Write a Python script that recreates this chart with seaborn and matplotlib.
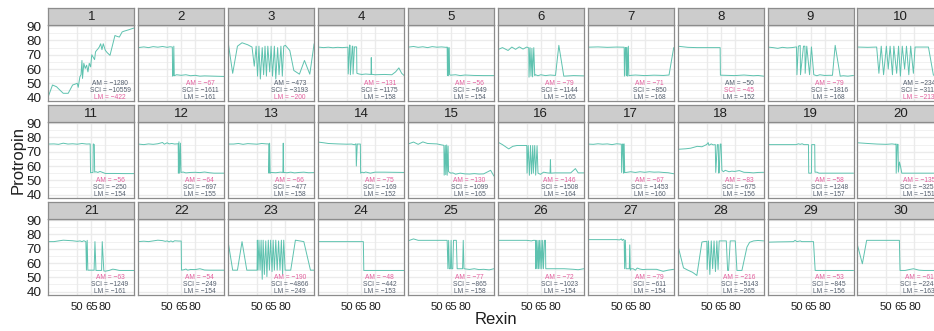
import matplotlib
matplotlib.use("Agg")
import matplotlib.pyplot as plt
import pandas as pd
import seaborn as sns

sns.set_theme(style="white")
plt.rcParams["font.family"] = ["Liberation Sans", "DejaVu Sans"]

# ---- data -------------------------------------------------------------
panel_ids = list(range(1, 31))

am_scores = [-1280, -67, -473, -131, -56, -79, -71, -50, -79, -234,
             -56, -64, -66, -75, -130, -146, -67, -83, -58, -135,
             -63, -54, -190, -48, -77, -72, -79, -216, -53, -61]
sci_scores = [-10559, -1611, -3193, -1175, -649, -1144, -850, -45, -1816, -3117,
              -250, -697, -477, -169, -1099, -1508, -1453, -675, -1248, -3255,
              -1249, -249, -4866, -442, -865, -1023, -611, -5143, -845, -2245]
lm_scores = [-422, -161, -200, -158, -154, -165, -168, -152, -168, -213,
             -154, -155, -158, -152, -165, -164, -160, -156, -157, -151,
             -161, -154, -249, -153, -158, -154, -154, -265, -156, -163]

rexin_01 = [19, 23.5, 27.8, 31, 35, 40.3, 45, 48, 50, 51, 52.8, 54, 55, 55.6, 57, 58.5, 60, 61.4, 62.8, 64.3,
            65.5, 66.4, 68.5, 69.5, 70.7, 72, 73.5, 75, 76.4, 77.8, 80, 82, 85, 90.3, 92, 95, 98, 100, 105, 111]
protropin_01 = [40.7, 48.8, 47.6, 45.5, 43, 43, 48.8, 49.5, 50, 47.2, 54.6, 56, 66, 53.4, 64, 60.4, 62.7, 58, 64, 61.5,
                70, 69, 66.6, 72, 73.1, 74, 75.4, 77.7, 73.6, 77.7, 73.1, 71.5, 69.6, 83.5, 83, 82.4, 86, 86.5, 87.5, 88.8]

rexin_02 = [19, 25, 30, 35, 40, 45, 50, 53, 55.5, 55.8, 56.5, 57.1, 57.6, 60, 65, 70, 75, 80, 85, 90, 100, 111]
protropin_02 = [75, 75.5, 75, 75.7, 75.3, 75.8, 75.2, 75.6, 75.4, 55, 55.5, 76, 55.3, 56, 55.6, 56, 55.3, 55.6, 55, 55.2, 55, 54.8]

rexin_03 = [19, 23.9, 29, 33.9, 40, 44.6, 47, 49, 50.5, 52, 53.5, 55.5, 57, 58.5, 60, 61.5, 63.5, 65, 66.5, 68.5,
            70, 72, 73.5, 75.5, 77, 78.5, 80.3, 85, 89.3, 95.3, 100.7, 106.4, 111]
protropin_03 = [79, 57, 76, 78.4, 77, 75.4, 62, 76, 55, 76, 53, 75, 56, 76, 55, 76, 58, 76, 55, 76,
                53, 75, 56, 76, 55, 76, 76.6, 73, 59, 56.4, 66, 56.4, 77.7]

rexin_04 = [19, 25, 30, 35, 40, 45, 51, 51.3, 52.8, 53.3, 53.6, 55.7, 56.2, 56.5, 58, 60.3, 60.6, 63, 66, 70,
            75.7, 76, 76.4, 80, 90, 98, 102, 105.5, 108.5, 111]
protropin_04 = [75.4, 75, 75.3, 74.9, 75.2, 75, 75.3, 56.5, 76.8, 76.6, 56, 76, 76, 56.5, 75.5, 75.5, 57, 56.5, 56.2, 56.5,
                56.2, 68, 56.3, 56, 56.2, 56, 58, 60.8, 57, 55.5]

rexin_05 = [19, 25, 30, 35, 40, 45, 50, 55, 60, 61, 61.3, 62, 62.5, 63.2, 63.7, 64.6, 70, 75, 80, 90, 100, 111]
protropin_05 = [75.3, 75.8, 75.2, 75.6, 75, 75.7, 75.3, 75.5, 75.2, 75.4, 55.5, 75, 55.3, 75, 56, 55.7, 56, 55.4, 55.8, 55.5, 55.4, 55.4]

rexin_06 = [19, 24, 30, 34, 38, 42, 46, 50, 52.1, 52.4, 53.5, 54.5, 55.5, 56.2, 57.5, 58.5, 59.3, 62, 65, 70,
            75, 80.7, 84.3, 89.6, 95, 100, 111]
protropin_06 = [73.6, 75, 73, 75.4, 73.8, 75.5, 74, 75.4, 74.8, 54.3, 75, 55, 74.5, 54.5, 75, 55.5, 56, 55.3, 56, 55.4,
                55.8, 55.5, 76.6, 55, 55.2, 55.4, 55.2]

rexin_07 = [19, 30, 40, 50, 57, 58, 58.3, 59.3, 60, 60.3, 61, 61.5, 62.5, 63, 64, 70, 80, 90, 100, 106, 111]
protropin_07 = [75.3, 75.5, 75.2, 75.4, 75.3, 75.3, 55, 75, 75, 55.5, 75.2, 55, 76, 55.3, 55.5, 55.8, 55.4, 55.7, 55.5, 55.8, 75]

rexin_08 = [19, 30, 40, 50, 60, 64.5, 64.8, 70, 80, 90, 100, 105, 111]
protropin_08 = [76, 75.2, 75, 75, 75, 75, 55.7, 55.6, 55.4, 55.8, 55.3, 55.5, 55]

rexin_09 = [19, 25, 30, 35, 40, 45, 50, 50.5, 52, 54, 54.3, 57.5, 59, 59.3, 61, 64, 66, 68.5, 71.8, 75,
            80, 85, 88.5, 91.4, 96.8, 100, 105, 111]
protropin_09 = [75.4, 75, 74.5, 75.2, 74.8, 75, 75.5, 56, 76, 76.5, 56, 76, 76, 57, 76, 56, 75.5, 56, 55.3, 56,
                55.5, 55.6, 55.6, 76.6, 55, 55.3, 55, 55.5]

rexin_10 = [19, 30, 39.6, 42, 44.5, 47, 50, 52, 54, 56.5, 58, 61, 63, 65, 67, 69.5, 71.5, 74, 76, 78.9,
            80.7, 90, 95, 100.3, 105, 111]
protropin_10 = [75.4, 75.2, 75.4, 57, 76, 56, 76, 60, 76, 56, 76, 57, 76, 55, 76, 60, 76, 56, 76, 57,
                75.4, 75.4, 75.4, 55.7, 55.5, 55.5]

rexin_11 = [19, 25, 30, 35, 40, 45, 50, 55, 60, 63.8, 64.2, 66.8, 67.1, 68.2, 68.6, 70, 72, 74.3, 80, 90, 100, 111]
protropin_11 = [75.4, 75.5, 75.2, 76, 75.4, 75.6, 75.3, 75.8, 75.4, 75.5, 55.3, 55.5, 75.5, 75, 55.7, 56, 55.5, 56.2,
                54.8, 54.8, 54.7, 54.7]

rexin_12 = [19, 25, 30, 35, 40, 45, 47, 50, 52, 55, 58, 61.8, 62, 62.6, 63.3, 64.2, 64.8, 67, 70, 75,
            80, 85, 90, 95, 100, 111]
protropin_12 = [75.4, 75, 75.5, 75.2, 75.6, 76.5, 75.3, 76.3, 75.5, 75.8, 75.4, 75.6, 55, 77, 55, 76, 55.5, 55.8, 55.2, 55.5,
                55.6, 55.4, 55.8, 55.3, 55, 55]

rexin_13 = [19, 25, 30, 35, 40, 45, 50, 55, 60, 62.5, 62.7, 63.4, 64, 65, 70, 75, 77.6, 78, 78.4, 82,
            86, 90, 95, 100, 105, 111]
protropin_13 = [75.4, 75.4, 75.8, 75.2, 75.7, 75.5, 75.3, 75.8, 75.5, 75.5, 55, 76, 55, 55.5, 55.3, 55.7, 55.5, 76, 55.5, 55.3,
                55.7, 55.2, 55.5, 55.7, 55.3, 55.4]

rexin_14 = [19, 25, 30, 40, 50, 55, 58, 59.6, 60, 61, 64.3, 64.6, 66, 68, 70, 75, 80, 90, 100, 111]
protropin_14 = [76.8, 76.3, 75.8, 75.5, 75.3, 75.4, 74.9, 75.6, 60, 75.4, 75.4, 55, 55.7, 55.3, 55.8, 55, 55.7, 55.7, 55.6, 55.5]

rexin_15 = [19, 25, 30, 35, 40, 50, 55, 57.5, 57.8, 59, 59.5, 60.5, 61, 62, 62.5, 63.5, 65, 67, 70, 75,
            80, 85, 90, 95, 100, 107.5, 111]
protropin_15 = [75.4, 76.8, 75.2, 76.9, 75.8, 75.5, 74.8, 74.5, 53.6, 74.5, 54, 74.8, 53.5, 74, 56, 55.6, 55, 55.2, 54.3, 55,
                54.5, 54.4, 54.7, 54.4, 54.5, 57, 53]

rexin_16 = [19, 24, 30.7, 35, 39.6, 45, 50, 50.3, 51.5, 52.8, 54, 55, 56.4, 57, 58.5, 59.5, 61, 62, 64.6, 68,
            72, 74.9, 75.3, 75.7, 80, 90, 97, 102, 105, 111]
protropin_16 = [76.8, 75, 72, 73.8, 74.4, 74.4, 74.4, 55, 74.4, 53.5, 74.4, 54.5, 74.4, 55, 74.4, 53.6, 74.3, 55, 54.2, 55.7,
                55.2, 55, 64.4, 55, 55.2, 55.2, 55.2, 58.2, 55.2, 55.2]

rexin_17 = [19, 25, 30, 35, 40, 45, 50, 55, 55.3, 56.5, 57, 57.5, 58, 58.6, 60, 65, 70, 75, 80, 85,
            90, 95, 100, 105, 111]
protropin_17 = [75.4, 75.2, 75.6, 75.3, 75.5, 75, 75.6, 75.3, 55.5, 75.5, 75.3, 55, 75.5, 55.5, 55.5, 56, 55.5, 56, 55.6, 56,
                55.7, 55.8, 55.5, 55.3, 54.6]

rexin_18 = [19, 28, 33, 40, 45, 50, 51.7, 52.5, 55, 57, 59.3, 59.8, 61.5, 62.5, 63, 63.5, 64.6, 65.5, 66.4, 68,
            70, 74, 77, 80, 85, 90, 95, 100, 105, 111]
protropin_18 = [71.7, 72.1, 72.5, 73.8, 73.5, 75, 76.4, 74.5, 75.5, 74.8, 75, 55.5, 75, 75, 55, 55.5, 75.4, 75.4, 57, 56,
                57, 56, 56.4, 56.2, 56.8, 55.6, 55.5, 55.2, 55.5, 55.6]

rexin_19 = [19, 30, 40, 50, 52, 54, 56, 58, 61.8, 62.8, 63.1, 66, 66.3, 69.5, 69.8, 72, 74, 80, 90, 100, 111]
protropin_19 = [75, 75, 75, 75, 75.6, 75.2, 75.6, 75, 75, 75, 55, 55, 75, 75, 55.7, 55.7, 55, 55, 55, 55, 55]

rexin_20 = [19, 30, 40, 50, 56, 59.5, 60.3, 60.5, 61.6, 62.5, 62.8, 64, 65.3, 66.5, 70, 80, 90, 100, 111]
protropin_20 = [76.3, 75.8, 75.4, 75.2, 75.5, 75.2, 75.5, 55, 75.2, 75.2, 55.7, 62.8, 59.2, 55, 55, 55, 55, 55, 55]

rexin_21 = [19, 25, 30, 35, 40, 45, 50, 53, 55, 57, 59.2, 59.8, 60.6, 61.3, 68, 68.9, 70, 76, 76.7, 78.4,
            80, 84, 88, 91, 95, 100, 111]
protropin_21 = [75, 75, 75.5, 76, 75.8, 75.6, 75.2, 75.5, 75, 75.6, 75, 55, 75.9, 55, 55, 75, 54.8, 54.8, 75, 54.5,
                54.3, 54.8, 55.7, 55.4, 54.8, 54.8, 54.8]

rexin_22 = [19, 25, 30, 35, 40, 45, 48, 50, 52, 54, 56, 58, 62, 65, 65.3, 68, 70, 72, 75, 80,
            85, 90, 95, 100, 111]
protropin_22 = [75, 75.3, 75, 75.5, 76, 75.7, 75.2, 75.5, 74.8, 75.5, 74.8, 75.6, 75.4, 75.4, 55, 55.3, 55.8, 55, 55.5, 55.4,
                56, 55.1, 55, 55, 55]

rexin_23 = [19, 23.9, 29, 33.9, 39, 45, 50, 50.3, 51, 52, 53.2, 54.3, 55.5, 56.5, 57.8, 59.3, 60.5, 62, 63.2, 64.5,
            66, 67.2, 68.5, 70, 71.5, 73, 74.5, 76, 77.3, 78.5, 80, 82, 86, 91, 100, 107.1, 111]
protropin_23 = [75, 55, 55, 75, 55, 55, 55, 76, 55, 76, 55, 76, 48.6, 76, 52, 75.5, 50.5, 76, 55, 76,
                54, 76, 55, 76, 55, 75.5, 55, 76, 52, 76, 55, 55, 55, 76, 75, 55, 55]

rexin_24 = [19, 30, 40, 50, 60, 67.5, 68, 80, 90, 100, 111]
protropin_24 = [75, 75, 75, 75, 75, 75, 54.8, 54.8, 54.8, 54.8, 54.8]

rexin_25 = [19, 25, 30, 40, 50, 55, 61, 61.8, 62.6, 63.3, 64.5, 65.2, 65.8, 67, 67.8, 70.8, 71.7, 73.5, 77.5, 78.2,
            79, 85, 90, 95, 100, 106, 111]
protropin_25 = [75.5, 76.9, 75.9, 75.9, 75.9, 75.9, 75.9, 56, 75.9, 56, 56, 75.9, 56, 56, 75.9, 75.9, 56, 56, 56, 75.9,
                56, 55.5, 56, 55.4, 55.6, 55.2, 56]

rexin_26 = [19, 30, 40, 50, 55, 57, 59.3, 59.6, 60.3, 61, 62, 62.6, 63.5, 64.2, 65.3, 66, 67, 67.8, 69, 70,
            70.3, 75, 80, 90, 100, 105, 111]
protropin_26 = [75.9, 75.9, 75.9, 75.9, 75.5, 75.9, 75.9, 56, 75.9, 56, 75.9, 56, 75.9, 56, 75.9, 56, 75.9, 56, 75.9, 75.9,
                56, 56, 56, 56, 55.6, 55.3, 56]

rexin_27 = [19, 30, 40, 50, 53, 55, 56, 57, 58, 58.5, 59.3, 60, 61.2, 63.5, 64, 64.6, 65.5, 67.6, 70, 72,
            74.7, 78, 82, 86, 92.6, 99.7, 105, 111]
protropin_27 = [76.4, 76.4, 76.4, 76.4, 76.2, 76.9, 75.8, 76.6, 76.2, 56, 76, 56, 56, 56, 72.7, 55, 56, 56, 55, 56.5,
                55.8, 55.4, 55.6, 55.6, 55.6, 54.2, 55, 55.6]

rexin_28 = [19, 25.3, 30, 35, 39.6, 45, 47, 50.3, 50.6, 52, 53.5, 55, 56.5, 58, 59.5, 61, 62.3, 63.5, 71.1, 72.5,
            73.5, 75.3, 80.7, 82.5, 87.8, 93.2, 96, 100.3, 105, 111]
protropin_28 = [73.1, 56.6, 55, 53.5, 51.3, 74.7, 75, 75.2, 55.5, 75.5, 52, 75.5, 56, 75.5, 54, 75.5, 55.5, 75.5, 75.5, 54.8,
                54.8, 75.5, 75.5, 54.8, 54.8, 71.2, 74.5, 75.5, 75.8, 75.5]

rexin_29 = [19, 30, 40, 46.8, 48.5, 50.3, 52.1, 54, 55.6, 60, 68.2, 70, 80, 90, 100, 111]
protropin_29 = [74.6, 74.8, 74.9, 75, 75.9, 75, 75.2, 75.5, 75, 75, 75, 54.8, 54.8, 54.8, 54.8, 54.8]

rexin_30 = [19, 24.3, 28.9, 40, 50, 60, 63.9, 64.6, 70, 75, 78.9, 85, 90, 100, 111]
protropin_30 = [72.7, 59.5, 75.9, 75.9, 75.9, 75.9, 75.9, 54.8, 54.8, 55.5, 56, 55, 54.8, 54.8, 54.8]

x_breaks = [50, 65, 80]
y_breaks = [40, 50, 60, 70, 80, 90]

traces = [
    (rexin_01, protropin_01), (rexin_02, protropin_02), (rexin_03, protropin_03), (rexin_04, protropin_04),
    (rexin_05, protropin_05), (rexin_06, protropin_06), (rexin_07, protropin_07), (rexin_08, protropin_08),
    (rexin_09, protropin_09), (rexin_10, protropin_10), (rexin_11, protropin_11), (rexin_12, protropin_12),
    (rexin_13, protropin_13), (rexin_14, protropin_14), (rexin_15, protropin_15), (rexin_16, protropin_16),
    (rexin_17, protropin_17), (rexin_18, protropin_18), (rexin_19, protropin_19), (rexin_20, protropin_20),
    (rexin_21, protropin_21), (rexin_22, protropin_22), (rexin_23, protropin_23), (rexin_24, protropin_24),
    (rexin_25, protropin_25), (rexin_26, protropin_26), (rexin_27, protropin_27), (rexin_28, protropin_28),
    (rexin_29, protropin_29), (rexin_30, protropin_30),
]

frames = [pd.DataFrame({"panel": pid, "Rexin": xs, "Protropin": ys})
          for pid, (xs, ys) in zip(panel_ids, traces)]
df = pd.concat(frames, ignore_index=True)

# ---- styling ----------------------------------------------------------
LINE_COLOR = "#5EC2AF"
TEXT_GREY = "#56606F"
TEXT_PINK = "#E3609E"
GRID = "#EBEBEB"
BORDER = "#8C8C8C"
STRIP_FILL = "#CCCCCC"
INK = "#1f1f1f"

W, H = 934, 331
fig = plt.figure(figsize=(W / 100, H / 100), dpi=100)
fig.patch.set_facecolor("white")


def fig_box(left_px, top_px, width_px, height_px):
    return [left_px / W, 1 - (top_px + height_px) / H, width_px / W, height_px / H]


N_COLS = 10
PANEL_W, PANEL_H, STRIP_H = 86.0, 76.5, 17.0
COL_PITCH, ROW_PITCH = 89.9, 97.0
X0, Y0 = 48.3, 7.5

for i, pid in enumerate(panel_ids):
    r, c = divmod(i, N_COLS)
    left = X0 + COL_PITCH * c
    strip_top = Y0 + ROW_PITCH * r
    panel_top = strip_top + STRIP_H

    ax = fig.add_axes(fig_box(left, panel_top, PANEL_W, PANEL_H))
    sub = df[df["panel"] == pid]
    sns.lineplot(data=sub, x="Rexin", y="Protropin", ax=ax, estimator=None, sort=False,
                 color=LINE_COLOR, linewidth=0.7)
    ax.set_xlim(19, 111)
    ax.set_ylim(37.6, 91.2)
    ax.set_xlabel("")
    ax.set_ylabel("")
    ax.set_facecolor("white")

    ax.set_xticks(x_breaks)
    ax.set_yticks(y_breaks)
    ax.set_yticks([45, 55, 65, 75, 85], minor=True)
    ax.grid(which="major", color=GRID, linewidth=1.0)
    ax.grid(which="minor", axis="y", color=GRID, linewidth=0.5)
    ax.set_axisbelow(True)
    ax.tick_params(which="minor", length=0)
    ax.tick_params(which="major", length=2.2, width=0.7, color="#333333", labelcolor=INK)
    ax.tick_params(axis="x", labelsize=8.2, pad=3.2)
    ax.tick_params(axis="y", labelsize=9.7, pad=2.6)
    if c != 0:
        ax.tick_params(axis="y", left=False, labelleft=False)
    if r != 2:
        ax.tick_params(axis="x", bottom=False, labelbottom=False)
    for s in ax.spines.values():
        s.set_color(BORDER)
        s.set_linewidth(0.9)

    # model scores, best one highlighted
    scores = [("AM", am_scores[i]), ("SCI", sci_scores[i]), ("LM", lm_scores[i])]
    best = max(v for _, v in scores)
    for k, (name, val) in enumerate(scores):
        ax.text(85, 50 - 5 * k, f"{name} = {val}".replace("-", "\u2212"),
                ha="center", va="center", fontsize=4.8,
                color=TEXT_PINK if val == best else TEXT_GREY)

    # facet strip
    sax = fig.add_axes(fig_box(left, strip_top, PANEL_W, STRIP_H))
    sax.set_facecolor(STRIP_FILL)
    sax.set_xticks([])
    sax.set_yticks([])
    for s in sax.spines.values():
        s.set_color(BORDER)
        s.set_linewidth(0.9)
    sax.text(0.5, 0.47, str(pid), transform=sax.transAxes, ha="center", va="center",
             fontsize=9.5, color=INK)

grid_center_x = X0 + (COL_PITCH * (N_COLS - 1) + PANEL_W) / 2
grid_center_y = (Y0 + STRIP_H + Y0 + 2 * ROW_PITCH + STRIP_H + PANEL_H) / 2
fig.text(grid_center_x / W, 1 - 320 / H, "Rexin", ha="center", va="center", fontsize=12, color=INK)
fig.text(18 / W, 1 - grid_center_y / H, "Protropin", rotation=90, ha="center", va="center",
         fontsize=12, color=INK)

fig.savefig("out.png", dpi=100, facecolor="white")
